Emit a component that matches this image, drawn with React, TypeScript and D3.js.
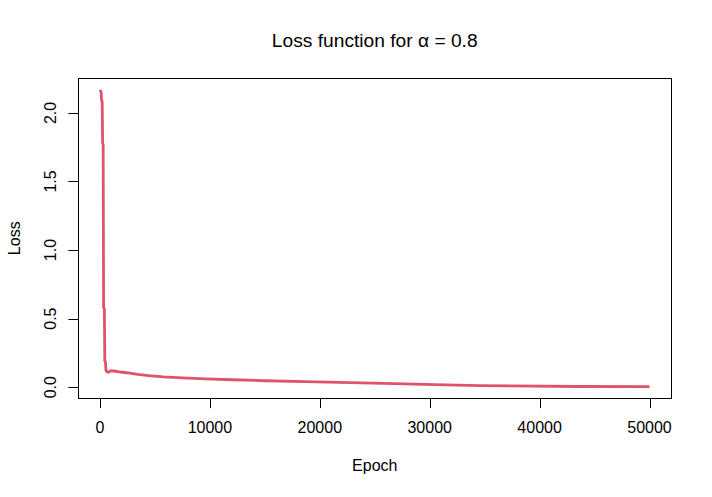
import React from "react";
import * as d3 from "d3";

const epochs = [1, 60, 110, 140, 200, 240, 290, 330, 400, 440, 500, 540, 600, 750, 950, 1300, 1760, 2210, 2720, 3440, 4450, 5770, 7500, 9600, 12050, 15000, 18700, 22800, 26770, 30400, 34600, 43500, 50000];
const losses = [2.168, 2.16, 2.15, 2.09, 2.085, 1.78, 1.77, 0.58, 0.57, 0.19, 0.185, 0.125, 0.115, 0.109, 0.119, 0.118, 0.112, 0.107, 0.102, 0.093, 0.084, 0.075, 0.068, 0.061, 0.054, 0.047, 0.04, 0.033, 0.026, 0.018, 0.011, 0.005, 0.004];
const xTicks = [0, 10000, 20000, 30000, 40000, 50000];
const yTicks = [0, 0.5, 1.0, 1.5, 2.0];
const titleText = "Loss function for α = 0.8";
const xLabel = "Epoch";
const yLabel = "Loss";

const W = 712, H = 497;
const L = 78, R = 671.5, T = 78, B = 398.5;
const FONT = "'Liberation Sans', Arial, sans-serif";
const COLOR = "#DF536B";

function pad(ext: [number, number]): [number, number] {
  const r = ext[1] - ext[0];
  return [ext[0] - 0.04 * r, ext[1] + 0.04 * r];
}

export default function App() {
  const xs = d3.scaleLinear().domain(pad(d3.extent(epochs) as [number, number])).range([L, R]);
  const ys = d3.scaleLinear().domain(pad(d3.extent(losses) as [number, number])).range([B, T]);
  const data = epochs.map((e, i) => [e, losses[i]] as [number, number]);
  const line = d3.line<[number, number]>().x(d => xs(d[0])).y(d => ys(d[1]));
  const tick = 9.6;
  return (
    <svg width={W} height={H} style={{ position: "absolute", left: 0, top: 0, background: "#fff" }} fontFamily={FONT}>
      <rect x={0} y={0} width={W} height={H} fill="#fff" />
      <path d={line(data) || ""} fill="none" stroke={COLOR} strokeWidth={2.8} strokeLinejoin="round" />
      <rect x={L + 0.5} y={T + 0.5} width={R - L - 0.5} height={B - T - 0.5} fill="none" stroke="#000" strokeWidth={1} />
      {/* x axis */}
      <line x1={xs(xTicks[0])} x2={xs(xTicks[xTicks.length - 1])} y1={B} y2={B} stroke="#000" />
      {xTicks.map(t => (
        <g key={"x" + t}>
          <line x1={Math.round(xs(t)) + 0.5} x2={Math.round(xs(t)) + 0.5} y1={B} y2={B + tick} stroke="#000" />
          <text x={xs(t)} y={433.3} fontSize={16} textAnchor="middle" fill="#000">{String(t)}</text>
        </g>
      ))}
      {/* y axis */}
      {yTicks.map(t => (
        <g key={"y" + t}>
          <line x1={L - tick} x2={L} y1={Math.round(ys(t)) + 0.5} y2={Math.round(ys(t)) + 0.5} stroke="#000" />
          <text transform={`translate(56,${ys(t)}) rotate(-90)`} fontSize={16} textAnchor="middle" fill="#000">{t.toFixed(1)}</text>
        </g>
      ))}
      <text x={(L + R) / 2} y={470.7} fontSize={16} textAnchor="middle" fill="#000">{xLabel}</text>
      <text transform={`translate(20,${(T + B) / 2}) rotate(-90)`} fontSize={16} textAnchor="middle" fill="#000">{yLabel}</text>
      <text x={(L + R) / 2} y={47.3} fontSize={19.2} textAnchor="middle" fill="#000">{titleText}</text>
    </svg>
  );
}
